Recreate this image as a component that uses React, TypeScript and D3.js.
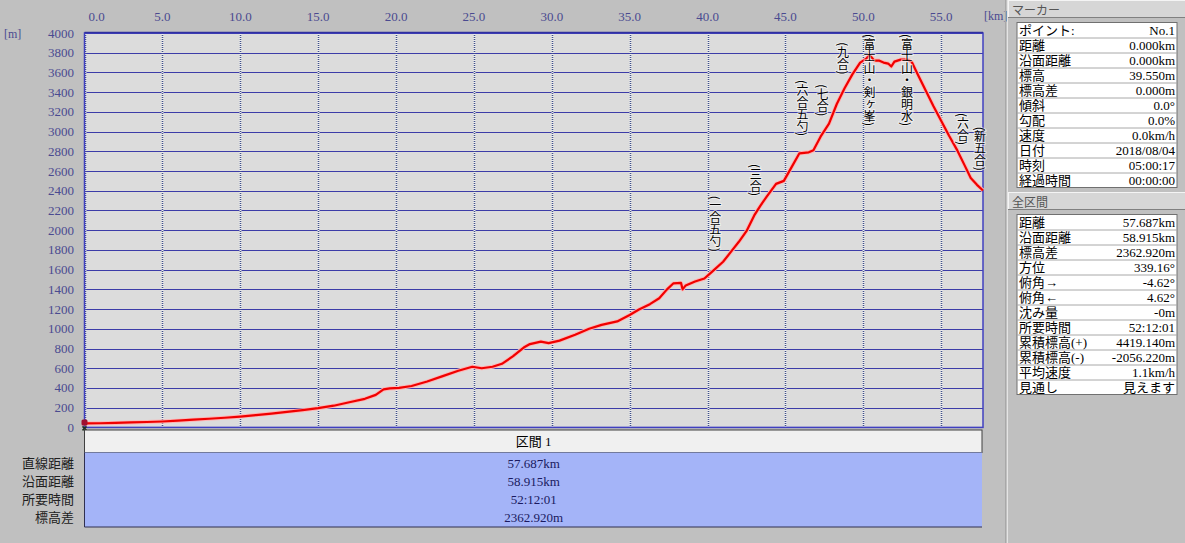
import React from "react";
import * as d3 from "d3";

// ---------- data ----------
const totalKm = 57.687;
const distKm = [0, 1, 2, 3, 4, 5, 6, 7, 8, 9, 10, 11, 12, 13, 14, 15, 16, 17, 18, 18.7, 19.2, 19.6, 20.2, 21, 22, 23, 24, 24.9, 25.5, 26.2, 26.8, 27.5, 28.2, 28.6, 29.3, 29.8, 30.5, 31.5, 32.4, 33.2, 34.2, 35, 35.6, 36.3, 36.9, 37.4, 37.8, 38.3, 38.4, 38.6, 39.2, 39.8, 40.3, 41, 41.6, 42, 42.5, 43, 43.4, 43.8, 44.4, 44.9, 45.4, 45.9, 46.5, 46.8, 47.3, 47.8, 48.3, 48.8, 49.3, 49.8, 50.2, 50.4, 50.7, 51, 51.3, 51.6, 51.8, 52, 52.4, 52.8, 53.1, 53.5, 54, 54.5, 55, 55.5, 56, 56.5, 56.9, 57.3, 57.687];
const elevM = [40, 42, 45, 50, 55, 60, 68, 78, 88, 98, 110, 125, 140, 158, 175, 195, 220, 255, 290, 330, 385, 395, 400, 420, 465, 520, 575, 615, 600, 615, 645, 720, 810, 845, 870, 855, 880, 940, 1000, 1040, 1075, 1140, 1195, 1250, 1310, 1400, 1460, 1465, 1400, 1440, 1480, 1510, 1580, 1680, 1800, 1880, 1990, 2150, 2250, 2340, 2470, 2500, 2640, 2780, 2790, 2810, 2960, 3080, 3280, 3440, 3580, 3700, 3740, 3780, 3720, 3720, 3700, 3690, 3660, 3710, 3730, 3730, 3710, 3580, 3420, 3260, 3110, 2960, 2820, 2660, 2530, 2460, 2402];

const xTickValues = [0, 5, 10, 15, 20, 25, 30, 35, 40, 45, 50, 55];
const xTickLabels = ["0.0", "5.0", "10.0", "15.0", "20.0", "25.0", "30.0", "35.0", "40.0", "45.0", "50.0", "55.0"];
const yTickValues = [0, 200, 400, 600, 800, 1000, 1200, 1400, 1600, 1800, 2000, 2200, 2400, 2600, 2800, 3000, 3200, 3400, 3600, 3800, 4000];

const wpNames = ["(一合五勺)", "(三合)", "(六合五勺)", "(七合)", "(九合)", "(富士山・剣ヶ峯)", "(富士山・銀明水)", "(六合)", "(新五合)"];
const wpKm = [40.5, 43.1, 46.1, 47.4, 48.7, 50.4, 52.8, 56.4, 57.5];

const markerLabels = ["ポイント:", "距離", "沿面距離", "標高", "標高差", "傾斜", "勾配", "速度", "日付", "時刻", "経過時間"];
const markerValues = ["No.1", "0.000km", "0.000km", "39.550m", "0.000m", "0.0°", "0.0%", "0.0km/h", "2018/08/04", "05:00:17", "00:00:00"];
const totalLabels = ["距離", "沿面距離", "標高差", "方位", "俯角→", "俯角←", "沈み量", "所要時間", "累積標高(+)", "累積標高(-)", "平均速度", "見通し"];
const totalValues = ["57.687km", "58.915km", "2362.920m", "339.16°", "-4.62°", "4.62°", "-0m", "52:12:01", "4419.140m", "-2056.220m", "1.1km/h", "見えます"];

const sectionTitle = "区間 1";
const sectionLabels = ["直線距離", "沿面距離", "所要時間", "標高差"];
const sectionValues = ["57.687km", "58.915km", "52:12:01", "2362.920m"];

// ---------- layout ----------
const W = 1185, H = 543;
const P = { left: 84.5, right: 983, top: 33, bottom: 427.4 };
const FONT = "'Liberation Serif', 'Noto Sans CJK JP', serif";
const JFONT = "'Noto Sans CJK JP', sans-serif";

const xS = d3.scaleLinear().domain([0, totalKm]).range([P.left, P.right]);
const yS = d3.scaleLinear().domain([0, 4000]).range([P.bottom, P.top]);

const pts = distKm.map((d, i) => [d, elevM[i]] as [number, number]);
const line = d3.line<[number, number]>().x(d => xS(d[0])).y(d => yS(d[1]));

function elevAt(km: number) {
  const i = Math.max(1, Math.min(distKm.length - 1, d3.bisectLeft(distKm, km)));
  const a = distKm[i - 1], b = distKm[i];
  const t = (km - a) / (b - a);
  return elevM[i - 1] + (elevM[i] - elevM[i - 1]) * t;
}

function VLabel({ name, km }: { name: string; km: number }) {
  const chars = name.split("");
  const total = d3.sum(chars.map(c => (c === "(" || c === ")" ? 5 : 12)));
  const bottom = yS(elevAt(km)) - 15;
  const top = Math.max(P.top + 1, bottom - total);
  const cx = xS(km);
  return (
    <text x={cx} y={top} style={{ writingMode: "vertical-rl" } as any}
      fontFamily={JFONT} fontSize={12} fill="#000"
      stroke="#ffffff" strokeOpacity={0.55} strokeWidth={2} paintOrder="stroke">
      {name}
    </text>
  );
}

function Panel({ title, y0, labels, values }: { title: string; y0: number; labels: string[]; values: string[] }) {
  const tTop = y0 + 22.5;
  const rowH = 15;
  const tx0 = 1017, tx1 = 1177;
  return (
    <g>
      <rect x={1008} y={y0} width={177} height={18} fill="#d6d6d6" />
      <line x1={1008} x2={1185} y1={y0 + 0.5} y2={y0 + 0.5} stroke="#f4f4f4" />
      <line x1={1008.5} x2={1008.5} y1={y0} y2={y0 + 18} stroke="#f4f4f4" />
      <line x1={1008} x2={1185} y1={y0 + 17.5} y2={y0 + 17.5} stroke="#808080" />
      <text x={1012} y={y0 + 9.5} dominantBaseline="central" fontFamily={JFONT} fontSize={12} fill="#555">{title}</text>
      <rect x={tx0} y={tTop} width={tx1 - tx0} height={rowH * labels.length} fill="#fff" stroke="#707070" />
      {labels.map((l, i) => (
        <g key={i}>
          {i > 0 && <line x1={tx0} x2={tx1} y1={tTop + i * rowH + 0.5} y2={tTop + i * rowH + 0.5} stroke="#a8a8a8" />}
          <text x={tx0 + 2} y={tTop + i * rowH + rowH / 2 + 0.5} dominantBaseline="central" fontFamily={FONT} fontSize={13} fill="#000">{l}</text>
          <text x={tx1 - 2} y={tTop + i * rowH + rowH / 2 + 0.5} dominantBaseline="central" textAnchor="end" fontFamily={FONT} fontSize={13} fill="#000">{values[i]}</text>
        </g>
      ))}
    </g>
  );
}

export default function App() {
  const tableMid = (P.left + P.right) / 2;
  return (
    <div style={{ position: "fixed", left: 0, top: 0 }}>
      <svg width={W} height={H} style={{ display: "block" }}>
        <rect width={W} height={H} fill="#c0c0c0" />
        {/* plot background */}
        <rect x={P.left} y={P.top} width={P.right - P.left} height={P.bottom - P.top} fill="#dcdcdc" />
        {/* horizontal grid */}
        {yTickValues.map(v => (
          <line key={v} x1={P.left} x2={P.right} y1={Math.round(yS(v)) + 0.5} y2={Math.round(yS(v)) + 0.5} stroke="#3c3ca8" strokeWidth={1} />
        ))}
        {/* vertical dotted grid */}
        {xTickValues.map(v => (
          <g key={v}>
            <line x1={Math.round(xS(v)) + 0.5} x2={Math.round(xS(v)) + 0.5} y1={P.top} y2={P.bottom} stroke="#f0f0f0" strokeWidth={2} strokeDasharray="1,1" strokeDashoffset={1} />
            <line x1={Math.round(xS(v)) + 0.5} x2={Math.round(xS(v)) + 0.5} y1={P.top} y2={P.bottom} stroke="#40508a" strokeWidth={1.5} strokeDasharray="1,1" />
          </g>
        ))}
        {/* frame */}
        <rect x={P.left} y={P.top} width={P.right - P.left} height={P.bottom - P.top} fill="none" stroke="#4040c0" strokeWidth={1.5} />
        <line x1={P.left} x2={P.right} y1={P.top - 0.5} y2={P.top - 0.5} stroke="#3030a0" strokeWidth={1.5} />
        {/* y labels */}
        {yTickValues.map(v => (
          <text key={v} x={74} y={yS(v)} textAnchor="end" dominantBaseline="central" fontFamily={FONT} fontSize={13} fill="#4a4a90">{v}</text>
        ))}
        <text x={4} y={34} dominantBaseline="central" fontFamily={FONT} fontSize={12} fill="#4a4a90">[m]</text>
        {/* x labels */}
        {xTickValues.map((v, i) => (
          <text key={v} x={Math.max(xS(v), P.left + 12)} y={16} textAnchor="middle" dominantBaseline="central" fontFamily={FONT} fontSize={13} fill="#4a4a90">{xTickLabels[i]}</text>
        ))}
        <text x={984} y={16} dominantBaseline="central" fontFamily={FONT} fontSize={12} fill="#4a4a90">[km]</text>
        {/* profile */}
        <path d={line(pts) || ""} fill="none" stroke="#ffb4b4" strokeWidth={4} strokeLinejoin="round" />
        <path d={line(pts) || ""} fill="none" stroke="#f00000" strokeWidth={2.2} strokeLinejoin="round" />
        {/* waypoint labels */}
        {wpNames.map((n, i) => <VLabel key={i} name={n} km={wpKm[i]} />)}
        {/* start marker */}
        <rect x={xS(0) - 3} y={yS(elevM[0]) - 4} width={6} height={6} fill="#a01030" rx={1.5} />
        <path d={`M${xS(0) - 2},${P.bottom + 3} l4,-4 M${xS(0) - 2},${P.bottom - 1} l4,4`} stroke="#203020" strokeWidth={1.5} />
        {/* bottom table */}
        <rect x={P.left} y={430} width={P.right - 1 - P.left} height={22.5} fill="#f0f0f0" stroke="#404040" strokeWidth={1} />
        <text x={tableMid} y={441.5} textAnchor="middle" dominantBaseline="central" fontFamily={FONT} fontSize={13} fill="#000">{sectionTitle}</text>
        <rect x={P.left} y={452.5} width={P.right - 1 - P.left} height={74.5} fill="#a4b4f8" />
        <line x1={P.left} x2={P.right - 1} y1={527} y2={527} stroke="#303050" />
        <line x1={P.left} x2={P.left} y1={452.5} y2={527} stroke="#303050" />
        {sectionLabels.map((l, i) => (
          <g key={i}>
            <text x={74} y={463 + i * 18} textAnchor="end" dominantBaseline="central" fontFamily={FONT} fontSize={13} fill="#202020">{l}</text>
            <text x={tableMid} y={463 + i * 18} textAnchor="middle" dominantBaseline="central" fontFamily={FONT} fontSize={13} fill="#1a1a60">{sectionValues[i]}</text>
          </g>
        ))}
        {/* right panel separator */}
        <line x1={1005.5} x2={1005.5} y1={0} y2={H} stroke="#a8a8a8" />
        <line x1={1007.5} x2={1007.5} y1={0} y2={H} stroke="#e4e4e4" />
        <Panel title="マーカー" y0={0} labels={markerLabels} values={markerValues} />
        <Panel title="全区間" y0={192} labels={totalLabels} values={totalValues} />
      </svg>
    </div>
  );
}
